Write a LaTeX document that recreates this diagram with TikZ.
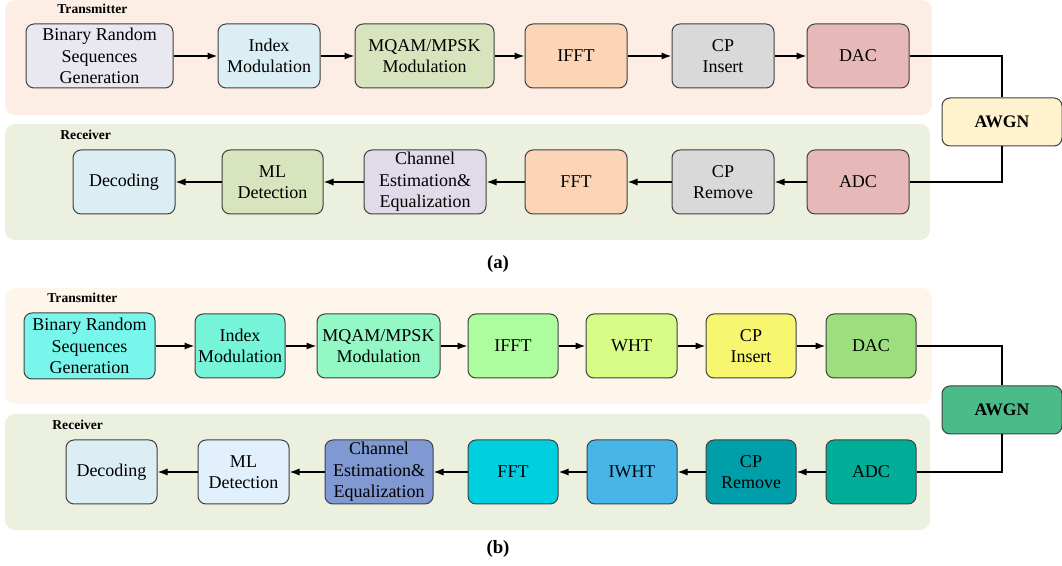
\documentclass[tikz,border=0pt]{standalone}
\usepackage{fontspec}
\setmainfont{Liberation Serif}
\usetikzlibrary{arrows.meta}
% panel (a) colours
\definecolor{txbgA}{HTML}{FDEEE5}
\definecolor{rxbgA}{HTML}{EBF1DE}
\definecolor{binA}{HTML}{E9E7F0}
\definecolor{idxA}{HTML}{DAEEF3}
\definecolor{modA}{HTML}{D7E4BD}
\definecolor{fftA}{HTML}{FBD5B5}
\definecolor{cpA}{HTML}{D9D9D9}
\definecolor{dacA}{HTML}{E6B9B8}
\definecolor{awgnA}{HTML}{FFF2CC}
\definecolor{chA}{HTML}{E1DAE9}
% panel (b) colours
\definecolor{txbgB}{HTML}{FEF6EA}
\definecolor{rxbgB}{HTML}{EBF1DE}
\definecolor{binB}{HTML}{79F6EC}
\definecolor{idxB}{HTML}{76F5D8}
\definecolor{modB}{HTML}{94F8C4}
\definecolor{ifftB}{HTML}{ADFC9E}
\definecolor{whtB}{HTML}{D6FC86}
\definecolor{cpiB}{HTML}{F8F56E}
\definecolor{dacB}{HTML}{9DDF7E}
\definecolor{awgnB}{HTML}{4CBB8A}
\definecolor{decB}{HTML}{DBEEF3}
\definecolor{mlB}{HTML}{E2F0FD}
\definecolor{chB}{HTML}{8099D3}
\definecolor{fftB}{HTML}{00CFE0}
\definecolor{iwhtB}{HTML}{48B5E8}
\definecolor{cprB}{HTML}{009EA8}
\definecolor{adcB}{HTML}{00AD98}
\begin{document}
\begin{tikzpicture}[x=0.5pt,y=-0.5pt,
  blk/.style={draw=black!75, rounded corners=4pt, line width=0.5pt, minimum height=32pt,
    align=center, inner sep=1pt, font=\fontsize{9}{10.8}\selectfont},
  noise/.style={blk, minimum width=60pt, minimum height=24pt, font=\fontsize{8.8}{10}\selectfont\bfseries},
  lbl/.style={anchor=west, inner sep=0pt, font=\fontsize{6.8}{8}\selectfont\bfseries},
  figcap/.style={inner sep=0pt, font=\fontsize{9.4}{11}\selectfont\bfseries},
  flow/.style={line width=0.75pt, -{Latex[length=5pt,width=3.6pt]}},
  wire/.style={line width=0.75pt}]
  \useasboundingbox (0,0) rectangle (1062,566);

  % ---- (a) ----
  \fill[txbgA, rounded corners=5pt] (5,0) rectangle (932,115);
  \fill[rxbgA, rounded corners=5pt] (5,124) rectangle (930,240);
  \node[lbl] (txA) at (57,9) {Transmitter};
  \node[lbl] (rxA) at (60,135) {Receiver};

  \node[blk, fill=binA, minimum width=73.5pt] (binA) at (99.5,56) {Binary Random\\Sequences\\Generation};
  \node[blk, fill=idxA, minimum width=51pt] (idxA) at (269,56) {Index\\Modulation};
  \node[blk, fill=modA, minimum width=69.5pt] (modA) at (424.5,56) {MQAM/MPSK\\Modulation};
  \node[blk, fill=fftA, minimum width=51pt] (ifftA) at (576,56) {IFFT};
  \node[blk, fill=cpA, minimum width=51pt] (cpiA) at (723,56) {CP\\Insert};
  \node[blk, fill=dacA, minimum width=51pt] (dacA) at (858,56) {DAC};
  \node[noise, fill=awgnA] (awgnA) at (1002,122) {AWGN};

  \node[blk, fill=idxA, minimum width=51pt] (decA) at (124,182) {Decoding};
  \node[blk, fill=modA, minimum width=50.5pt] (mlA) at (272.5,182) {ML\\Detection};
  \node[blk, fill=chA, minimum width=61pt] (chA) at (425,182) {Channel\\Estimation\&\\Equalization};
  \node[blk, fill=fftA, minimum width=51pt] (fftA) at (576,182) {FFT};
  \node[blk, fill=cpA, minimum width=51pt] (cprA) at (723,182) {CP\\Remove};
  \node[blk, fill=dacA, minimum width=51pt] (adcA) at (858,182) {ADC};

  \draw[flow] (binA) -- (idxA);
  \draw[flow] (idxA) -- (modA);
  \draw[flow] (modA) -- (ifftA);
  \draw[flow] (ifftA) -- (cpiA);
  \draw[flow] (cpiA) -- (dacA);
  \draw[wire] (dacA.east) -| (awgnA.north);
  \draw[wire] (awgnA.south) |- (adcA.east);
  \draw[flow] (adcA) -- (cprA);
  \draw[flow] (cprA) -- (fftA);
  \draw[flow] (fftA) -- (chA);
  \draw[flow] (chA) -- (mlA);
  \draw[flow] (mlA) -- (decA);
  \node[figcap] (capA) at (498,264) {(a)};

  % ---- (b) ----
  \fill[txbgB, rounded corners=5pt] (5,288) rectangle (932,404);
  \fill[rxbgB, rounded corners=5pt] (5,414) rectangle (930,530);
  \node[lbl] (txB) at (47,298) {Transmitter};
  \node[lbl] (rxB) at (52,425) {Receiver};

  \node[blk, fill=binB, minimum width=65.5pt, minimum height=33pt] (binB) at (89.5,346) {Binary Random\\Sequences\\Generation};
  \node[blk, fill=idxB, minimum width=45pt] (idxB) at (240,346) {Index\\Modulation};
  \node[blk, fill=modB, minimum width=61.5pt] (modB) at (378.5,346) {MQAM/MPSK\\Modulation};
  \node[blk, fill=ifftB, minimum width=45pt] (ifftB) at (513,346) {IFFT};
  \node[blk, fill=whtB, minimum width=45.5pt] (whtB) at (631.5,346) {WHT};
  \node[blk, fill=cpiB, minimum width=45pt] (cpiB) at (751,346) {CP\\Insert};
  \node[blk, fill=dacB, minimum width=45pt] (dacB) at (871,346) {DAC};
  \node[noise, fill=awgnB] (awgnB) at (1002,410) {AWGN};

  \node[blk, fill=decB, minimum width=45.5pt] (decB) at (111.5,472) {Decoding};
  \node[blk, fill=mlB, minimum width=45.5pt] (mlB) at (243.5,472) {ML\\Detection};
  \node[blk, fill=chB, minimum width=54pt] (chB) at (379,472) {Channel\\Estimation\&\\Equalization};
  \node[blk, fill=fftB, minimum width=45pt] (fftB) at (513,472) {FFT};
  \node[blk, fill=iwhtB, minimum width=45pt] (iwhtB) at (632,472) {IWHT};
  \node[blk, fill=cprB, minimum width=45pt] (cprB) at (751,472) {CP\\Remove};
  \node[blk, fill=adcB, minimum width=45pt] (adcB) at (871,472) {ADC};

  \draw[flow] (binB) -- (idxB);
  \draw[flow] (idxB) -- (modB);
  \draw[flow] (modB) -- (ifftB);
  \draw[flow] (ifftB) -- (whtB);
  \draw[flow] (whtB) -- (cpiB);
  \draw[flow] (cpiB) -- (dacB);
  \draw[wire] (dacB.east) -| (awgnB.north);
  \draw[wire] (awgnB.south) |- (adcB.east);
  \draw[flow] (adcB) -- (cprB);
  \draw[flow] (cprB) -- (iwhtB);
  \draw[flow] (iwhtB) -- (fftB);
  \draw[flow] (fftB) -- (chB);
  \draw[flow] (chB) -- (mlB);
  \draw[flow] (mlB) -- (decB);
  \node[figcap] (capB) at (498,549) {(b)};
\end{tikzpicture}
\end{document}
